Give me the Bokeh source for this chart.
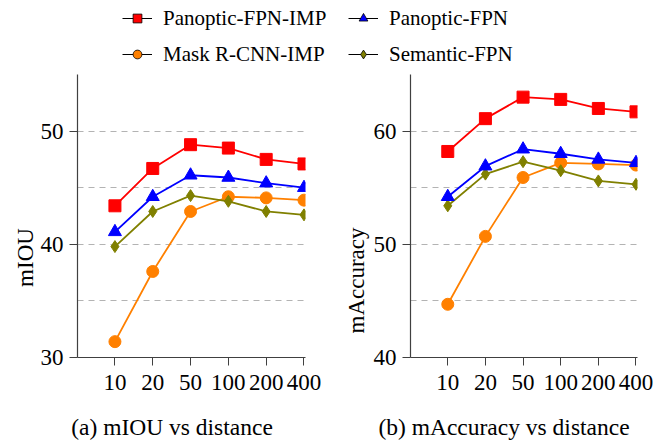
import math
from bokeh.plotting import figure
from bokeh.layouts import column, row
from bokeh.models import Range1d, FixedTicker, Label, Legend, LegendItem
from bokeh.embed import file_html
from bokeh.resources import INLINE

# ---- data ----
distances = ["10", "20", "50", "100", "200", "400"]
xs = list(range(len(distances)))

names = ["Panoptic-FPN-IMP", "Panoptic-FPN", "Mask R-CNN-IMP", "Semantic-FPN"]

miou_panoptic_imp = [43.4, 46.7, 48.8, 48.5, 47.5, 47.1]
miou_panoptic = [41.1, 44.2, 46.1, 45.9, 45.4, 45.0]
miou_mask_imp = [31.4, 37.6, 42.9, 44.2, 44.1, 43.9]
miou_semantic = [39.8, 42.9, 44.3, 43.8, 42.9, 42.6]

acc_panoptic_imp = [58.2, 61.1, 63.0, 62.8, 62.0, 61.7]
acc_panoptic = [54.2, 56.9, 58.4, 58.0, 57.5, 57.2]
acc_mask_imp = [44.7, 50.7, 55.9, 57.2, 57.1, 57.0]
acc_semantic = [53.4, 56.2, 57.3, 56.5, 55.6, 55.3]

miou_ticks = [30, 40, 50]
miou_grid = [35, 40, 45, 50, 55]
acc_ticks = [40, 50, 60]
acc_grid = [45, 50, 55, 60, 65]

y_labels = ["mIOU", "mAccuracy"]
captions = ["(a) mIOU vs distance", "(b) mAccuracy vs distance"]

# ---- styles ----
colors = {"Panoptic-FPN-IMP": "#ff0000", "Panoptic-FPN": "#0000ff",
          "Mask R-CNN-IMP": "#ff8000", "Semantic-FPN": "#808000"}
markers = {"Panoptic-FPN-IMP": "square", "Panoptic-FPN": "triangle",
           "Mask R-CNN-IMP": "circle", "Semantic-FPN": "diamond"}
sizes = {"Panoptic-FPN-IMP": 12, "Panoptic-FPN": 13,
         "Mask R-CNN-IMP": 12, "Semantic-FPN": 12}
draw_order = ["Mask R-CNN-IMP", "Semantic-FPN", "Panoptic-FPN", "Panoptic-FPN-IMP"]

FONT = "Liberation Serif"
FS = "23px"
ROW_H = 344


def blank(width, height):
    f = figure(width=width, height=height, x_range=Range1d(0, 1),
               y_range=Range1d(0, 1), output_backend="svg",
               toolbar_location=None, min_border=0)
    f.axis.visible = False
    f.grid.visible = False
    f.outline_line_color = None
    return f


def make_plot(width, mb_left, mb_right, y0, y1, ticks, grid, data):
    p = figure(width=width, height=ROW_H, x_range=Range1d(-0.99, 5.04),
               y_range=Range1d(y0, y1), output_backend="svg",
               toolbar_location=None, min_border_left=mb_left,
               min_border_right=mb_right, min_border_top=8, min_border_bottom=53)
    p.outline_line_color = None

    p.xgrid.visible = False
    p.ygrid.ticker = FixedTicker(ticks=grid)
    p.ygrid.grid_line_color = "#b3b3b3"
    p.ygrid.grid_line_dash = "6 5"
    p.ygrid.grid_line_width = 1

    for ax in (p.xaxis[0], p.yaxis[0]):
        ax.axis_line_color = "#404040"
        ax.axis_line_width = 1.2
        ax.major_tick_line_color = "#404040"
        ax.major_tick_in = 0
        ax.major_tick_out = 8
        ax.minor_tick_line_color = None
        ax.major_label_text_font = FONT
        ax.major_label_text_font_size = FS
        ax.major_label_text_color = "black"

    p.xaxis.ticker = FixedTicker(ticks=xs)
    p.xaxis.major_label_overrides = {i: d for i, d in zip(xs, distances)}
    p.xaxis.major_label_standoff = 9
    p.yaxis.ticker = FixedTicker(ticks=ticks)
    p.yaxis.major_label_standoff = 6

    for n in draw_order:
        p.line(xs, data[n], line_color=colors[n], line_width=1.8)
        p.scatter(xs, data[n], marker=markers[n], size=sizes[n],
                  fill_color=colors[n], line_color=colors[n], line_width=1)
    return p


miou = {"Panoptic-FPN-IMP": miou_panoptic_imp, "Panoptic-FPN": miou_panoptic,
        "Mask R-CNN-IMP": miou_mask_imp, "Semantic-FPN": miou_semantic}
acc = {"Panoptic-FPN-IMP": acc_panoptic_imp, "Panoptic-FPN": acc_panoptic,
       "Mask R-CNN-IMP": acc_mask_imp, "Semantic-FPN": acc_semantic}

pa = make_plot(303, 40, 35, 30, 55, miou_ticks, miou_grid, miou)
pb = make_plot(293, 39, 26, 40, 65, acc_ticks, acc_grid, acc)

# y-axis titles in narrow strips (label y is measured from the aligned frame bottom)
ya = blank(37, ROW_H)
ya.add_layout(Label(x=24.5, y=100, x_units="screen", y_units="screen",
                    text=y_labels[0], angle=math.pi / 2, text_align="center",
                    text_baseline="middle", text_font=FONT, text_font_size=FS,
                    text_color="black"))
yb = blank(30, ROW_H)
yb.add_layout(Label(x=15.5, y=77, x_units="screen", y_units="screen",
                    text=y_labels[1], angle=math.pi / 2, text_align="center",
                    text_baseline="middle", text_font=FONT, text_font_size=FS,
                    text_color="black"))

# sub-captions strip
cap = blank(663, 31)
for cx, t in zip((171.5, 503.5), captions):
    cap.add_layout(Label(x=cx, y=15, x_units="screen", y_units="screen",
                         text=t, text_align="center", text_baseline="middle",
                         text_font=FONT, text_font_size="23.5px",
                         text_color="black"))

# ---- legend strip ----
leg = blank(663, 66)
items = {}
for n in names:
    r1 = leg.line(xs, miou[n], line_color="black", line_width=1)
    r2 = leg.scatter(xs, miou[n], marker=markers[n], size=11,
                     fill_color=colors[n], line_color="black", line_width=0.8)
    items[n] = LegendItem(label=n, renderers=[r1, r2])

for cols, xloc in (([names[0], names[2]], 122), ([names[1], names[3]], 348)):
    lg = Legend(items=[items[c] for c in cols], location=(xloc, -0.5),
                orientation="vertical", padding=0, margin=0, spacing=11,
                glyph_width=30, glyph_height=22, label_height=22,
                label_standoff=11, label_text_font=FONT,
                label_text_font_size="21px", label_text_color="black",
                border_line_color=None, background_fill_alpha=0)
    leg.add_layout(lg, "center")

layout = column(leg, row(ya, pa, yb, pb, spacing=0), cap, spacing=0)
open("out.html", "w").write(file_html(layout, INLINE))
